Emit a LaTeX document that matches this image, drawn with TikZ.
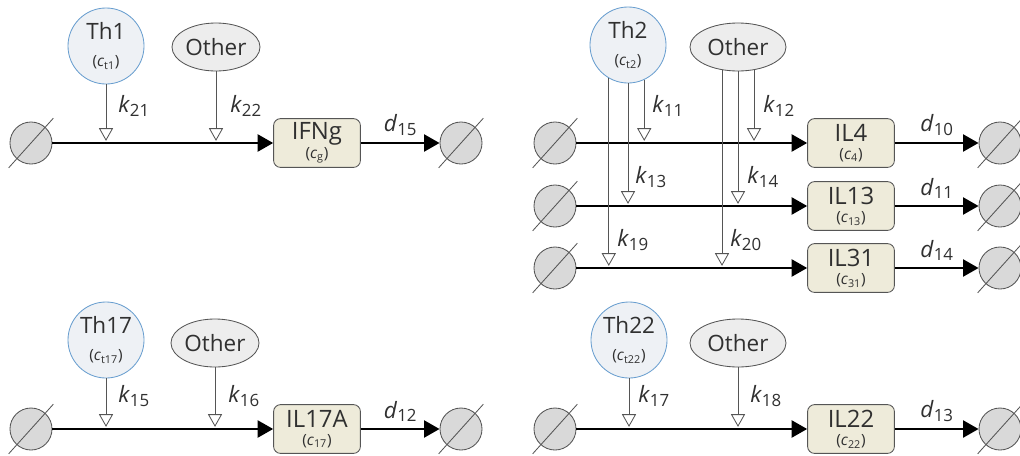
\documentclass[tikz,border=0pt]{standalone}
\usepackage{fontspec}
\setmainfont{Open Sans}
\usepackage{xcolor}
\usepackage{tikz}
\usetikzlibrary{arrows.meta,shapes}
\definecolor{thline}{HTML}{6A9FD0}
\definecolor{thfill}{HTML}{EEF1F5}
\definecolor{othfill}{HTML}{EDEDED}
\definecolor{boxfill}{HTML}{EEEBDA}
\definecolor{voidfill}{HTML}{D9D9D9}
\definecolor{darkline}{HTML}{555555}
\definecolor{ink}{HTML}{303030}
\newcommand{\rate}[2]{\textit{#1}\raisebox{-2.5pt}{\fontsize{12}{12}\selectfont#2}}
\newcommand{\conc}[1]{{\fontsize{11}{12}\selectfont(\textit{c}\textsubscript{#1})}}

\begin{document}
\begin{tikzpicture}[x=0.025cm,y=-0.025cm,font=\fontsize{16}{18}\selectfont,text=ink,
  cell/.style={circle,draw=thline,fill=thfill,line width=0.6pt,minimum size=1.9cm,inner sep=0pt,align=center},
  other/.style={ellipse,draw=darkline,fill=othfill,line width=0.6pt,minimum width=2.2cm,minimum height=1.2cm,inner sep=0pt},
  cyto/.style={draw=darkline,fill=boxfill,rounded corners=5pt,line width=0.6pt,minimum width=2.17cm,minimum height=1.22cm,inner sep=0pt,align=center,font=\fontsize{17}{18}\selectfont},
  void/.style={circle,draw=darkline,fill=voidfill,line width=0.6pt,minimum size=1.05cm,inner sep=0pt},
  flux/.style={line width=1.8pt,-{Triangle[length=11pt,width=12pt]}},
  reg/.style={draw=darkline,line width=0.6pt,shorten >=1.5pt,-{Triangle[open,length=9pt,width=10pt]}},
  lbl/.style={anchor=west,inner sep=0pt}]
\useasboundingbox (0,0) rectangle (1020,455);
%Th1 -> IFNg
\node[void] (s1) at (31,143) {};
\node[cell] (th1) at (106,46) {Th1\\[1pt]\conc{t1}};
\node[other] (o1) at (216,47) {Other};
\node[cyto] (ifng) at (317,143) {IFNg\\[-5pt]\conc{g}};
\node[void] (z1) at (461,143) {};
\draw[flux] (s1) -- (ifng);
\draw[flux] (ifng) -- node[above=1pt] (d15) {\rate{d}{15}} (z1);
\draw[reg] (th1) -- (th1 |- s1);
\draw[reg] (o1) -- (o1 |- s1);
\node[lbl] (k21) at (118,106) {\rate{k}{21}};
\node[lbl] (k22) at (230,106) {\rate{k}{22}};
%Th2 -> IL4, IL13, IL31
\node[void] (s21) at (555,143) {};
\node[void] (s22) at (555,206) {};
\node[void] (s23) at (555,268) {};
\node[cell] (th2) at (628,45) {Th2\\[1pt]\conc{t2}};
\node[other,minimum width=2.4cm] (o2) at (738,47) {Other};
\node[cyto] (il4) at (851,143) {IL4\\[-5pt]\conc{4}};
\node[cyto] (il13) at (851,206) {IL13\\[-5pt]\conc{13}};
\node[cyto] (il31) at (851,268) {IL31\\[-5pt]\conc{31}};
\node[void] (z21) at (1000,143) {};
\node[void] (z22) at (1000,206) {};
\node[void] (z23) at (1000,268) {};
\draw[flux] (s21) -- (il4);
\draw[flux] (s22) -- (il13);
\draw[flux] (s23) -- (il31);
\draw[flux] (il4) -- node[above=1pt] (d10) {\rate{d}{10}} (z21);
\draw[flux] (il13) -- node[above=1pt] (d11) {\rate{d}{11}} (z22);
\draw[flux] (il31) -- node[above=1pt] (d14) {\rate{d}{14}} (z23);
\coordinate (o2l) at ([xshift=-0.4cm,yshift=0.04cm]o2.south);
\coordinate (o2r) at ([xshift=0.4cm,yshift=0.04cm]o2.south);
\draw[reg] (th2.295) -- (th2.295 |- s21);
\draw[reg] (th2.south) -- (th2.south |- s22);
\draw[reg] (th2.240) -- (th2.240 |- s23);
\draw[reg] (o2r) -- (o2r |- s21);
\draw[reg] (o2.south) -- (o2.south |- s22);
\draw[reg] (o2l) -- (o2l |- s23);
\node[lbl] (k11) at (652,106) {\rate{k}{11}};
\node[lbl] (k12) at (763,106) {\rate{k}{12}};
\node[lbl] (k13) at (635,177) {\rate{k}{13}};
\node[lbl] (k14) at (747,177) {\rate{k}{14}};
\node[lbl] (k19) at (617,240) {\rate{k}{19}};
\node[lbl] (k20) at (730,240) {\rate{k}{20}};
%Th17 -> IL17A
\node[void] (s3) at (31,429) {};
\node[cell] (th17) at (106,340) {Th17\\[1pt]\conc{t17}};
\node[other] (o3) at (215,343) {Other};
\node[cyto] (il17a) at (317,429) {IL17A\\[-5pt]\conc{17}};
\node[void] (z3) at (461,429) {};
\draw[flux] (s3) -- (il17a);
\draw[flux] (il17a) -- node[above=1pt] (d12) {\rate{d}{12}} (z3);
\draw[reg] (th17) -- (th17 |- s3);
\draw[reg] (o3) -- (o3 |- s3);
\node[lbl] (k15) at (118,396) {\rate{k}{15}};
\node[lbl] (k16) at (228,396) {\rate{k}{16}};
%Th22 -> IL22
\node[void] (s4) at (555,429) {};
\node[cell] (th22) at (629,340) {Th22\\[1pt]\conc{t22}};
\node[other,minimum width=2.4cm] (o4) at (738,343) {Other};
\node[cyto] (il22) at (851,429) {IL22\\[-5pt]\conc{22}};
\node[void] (z4) at (1000,429) {};
\draw[flux] (s4) -- (il22);
\draw[flux] (il22) -- node[above=1pt] (d13) {\rate{d}{13}} (z4);
\draw[reg] (th22) -- (th22 |- s4);
\draw[reg] (o4) -- (o4 |- s4);
\node[lbl] (k17) at (638,396) {\rate{k}{17}};
\node[lbl] (k18) at (750,396) {\rate{k}{18}};
%empty-set slashes
\foreach \v in {s1,z1,s21,s22,s23,z21,z22,z23,s3,z3,s4,z4}
  \draw[darkline,line width=0.6pt,shorten <=-0.3cm,shorten >=-0.3cm] (\v.228) -- (\v.48);
\end{tikzpicture}
\end{document}
